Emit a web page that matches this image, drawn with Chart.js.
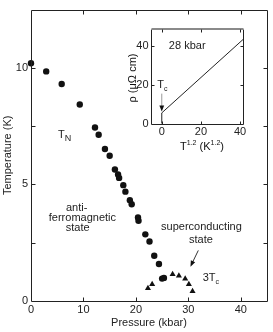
<!DOCTYPE html>
<html><head><meta charset="utf-8">
<script src="https://cdn.jsdelivr.net/npm/chart.js@4.4.0/dist/chart.umd.min.js"></script>
<style>
html,body{margin:0;padding:0;background:#fff;}
#wrap{position:relative;width:273px;height:332px;overflow:hidden;}
#main{position:absolute;left:0;top:0;width:273px;height:332px;}
#inset{position:absolute;left:126px;top:20px;width:132px;height:135px;}
</style></head><body>
<div id="wrap"><canvas id="main" width="273" height="332"></canvas><canvas id="inset" width="132" height="135"></canvas></div>
<script>
// ---- main panel data ----
const pressureTN = [0, 2.9, 5.85, 9.3, 12.2, 12.9, 14.1, 15.0, 16.0, 16.6, 16.8, 17.6, 18.0, 18.85, 19.2, 20.4, 20.5, 21.8, 22.6, 23.5, 24.4, 25.0, 25.35];
const tempTN     = [10.2, 9.85, 9.31, 8.43, 7.44, 7.13, 6.52, 6.23, 5.64, 5.43, 5.28, 4.97, 4.69, 4.32, 4.15, 3.58, 3.44, 2.86, 2.55, 1.94, 1.59, 0.96, 0.99];
const pressureTc = [22.3, 23.1, 27.0, 28.2, 29.4, 30.1, 30.8];
const temp3Tc    = [0.55, 0.72, 1.15, 1.08, 0.95, 0.72, 0.42];
const xTickValues = [0, 10, 20, 30, 40];
const xTickLabels = ['0', '10', '20', '30', '40'];
const yTickValues = [0, 2.5, 5, 7.5, 10];
const yTickLabels = ['0', '', '5', '', '10'];
// ---- inset data ----
const insetT12 = [0, 0, 41.5];
const insetRho = [0, 5.5, 43.6];
const insetXTickValues = [0, 20, 40];
const insetXTickLabels = ['0', '20', '40'];
const insetYTickValues = [0, 20, 40];
const insetYTickLabels = ['0', '20', '40'];

const FONT = '"Liberation Sans", Arial, Helvetica, sans-serif';
const INK = '#222';
const font11 = {family: FONT, size: 11};

function pts(xs, ys){ return xs.map((x,i)=>({x, y: ys[i]})); }
function px(v){ return Math.round(v) + 0.5; }

function framePlugin(cfg){
  return {
    id: 'frame',
    afterDraw(chart){
      const {ctx, chartArea: a, scales: {x, y}} = chart;
      const L = px(a.left), R = px(a.right), T = px(a.top), B = px(a.bottom);
      ctx.save();
      ctx.strokeStyle = INK; ctx.lineWidth = 1;
      ctx.beginPath();
      ctx.moveTo(L, T); ctx.lineTo(L, B); ctx.lineTo(R, B); ctx.lineTo(R, T);
      if (!cfg.topGray) ctx.lineTo(L, T);
      ctx.stroke();
      if (cfg.topGray){
        ctx.strokeStyle = '#8a8a8a'; ctx.lineWidth = 2;
        ctx.beginPath(); ctx.moveTo(L, a.top); ctx.lineTo(R, a.top); ctx.stroke();
        ctx.strokeStyle = INK; ctx.lineWidth = 1;
      }
      const len = cfg.tickLen;
      ctx.beginPath();
      cfg.xt.forEach(v => {
        const p = px(x.getPixelForValue(v));
        if (p <= L + 1 || p >= R - 1) return;
        ctx.moveTo(p, B); ctx.lineTo(p, B - len);
        ctx.moveTo(p, T); ctx.lineTo(p, T + len);
      });
      cfg.yt.forEach(v => {
        const p = px(y.getPixelForValue(v));
        if (p <= T + 1 || p >= B - 1) return;
        ctx.moveTo(L, p); ctx.lineTo(L + len, p);
        ctx.moveTo(R, p); ctx.lineTo(R - len, p);
      });
      ctx.stroke();
      ctx.restore();
    }
  };
}

function subText(ctx, x, y, main, sub, size, subSize, dy){
  ctx.font = size + 'px ' + FONT;
  const w1 = ctx.measureText(main).width;
  ctx.font = subSize + 'px ' + FONT;
  const w2 = ctx.measureText(sub).width;
  const x0 = x - (w1 + w2) / 2;
  ctx.textAlign = 'left'; ctx.textBaseline = 'middle';
  ctx.font = size + 'px ' + FONT;
  ctx.fillText(main, x0, y);
  ctx.font = subSize + 'px ' + FONT;
  ctx.fillText(sub, x0 + w1, y + dy);
}

function arrow(ctx, x1, y1, x2, y2, head, color){
  const ang = Math.atan2(y2 - y1, x2 - x1);
  ctx.strokeStyle = color; ctx.lineWidth = 1;
  ctx.beginPath(); ctx.moveTo(x1, y1);
  ctx.lineTo(x2 - Math.cos(ang) * head * 0.8, y2 - Math.sin(ang) * head * 0.8); ctx.stroke();
  ctx.fillStyle = '#111';
  ctx.beginPath();
  ctx.moveTo(x2, y2);
  ctx.lineTo(x2 - head * Math.cos(ang) + head * 0.4 * Math.sin(ang), y2 - head * Math.sin(ang) - head * 0.4 * Math.cos(ang));
  ctx.lineTo(x2 - head * Math.cos(ang) - head * 0.4 * Math.sin(ang), y2 - head * Math.sin(ang) + head * 0.4 * Math.cos(ang));
  ctx.closePath(); ctx.fill();
}

const mainNotes = {
  id: 'mainNotes',
  afterDraw(chart){
    const {ctx, scales: {x, y}} = chart;
    const X = v => x.getPixelForValue(v), Y = v => y.getPixelForValue(v);
    ctx.save();
    ctx.fillStyle = INK;
    subText(ctx, X(6.4), Y(7.12), 'T', 'N', 11, 9, 3.5);
    ctx.font = '11px ' + FONT; ctx.textAlign = 'center'; ctx.textBaseline = 'middle';
    ctx.fillText('anti-', X(8.7), Y(4.01));
    ctx.fillText('ferromagnetic', X(9.8), Y(3.58));
    ctx.fillText('state', X(8.9), Y(3.12));
    ctx.fillText('superconducting', X(32.5), Y(3.16));
    ctx.fillText('state', X(32.4), Y(2.6));
    subText(ctx, X(34.3), Y(0.99), '3T', 'c', 11, 7, 4);
    arrow(ctx, X(31.9), Y(2.17), X(30.4), Y(1.47), 6, '#333');
    ctx.restore();
  }
};

new Chart(document.getElementById('main'), {
  type: 'scatter',
  data: {
    datasets: [
      {label: 'TN', data: pts(pressureTN, tempTN), pointStyle: 'circle', pointRadius: 3.2,
       backgroundColor: '#111', borderColor: '#111', borderWidth: 0, clip: false},
      {label: '3Tc', data: pts(pressureTc, temp3Tc), pointStyle: 'triangle', pointRadius: 3.5,
       backgroundColor: '#111', borderColor: '#111', borderWidth: 0, clip: false}
    ]
  },
  options: {
    responsive: false, animation: false, devicePixelRatio: 1,
    layout: {padding: {top: 6, right: 6, left: 0, bottom: 0}},
    plugins: {legend: {display: false}, tooltip: {enabled: false}},
    scales: {
      x: {
        type: 'linear', min: 0, max: 45,
        afterBuildTicks: s => { s.ticks = xTickValues.map(v => ({value: v})); },
        afterFit: s => { s.height = 31; },
        grid: {display: false, drawTicks: false}, border: {display: false},
        ticks: {padding: 2.5, font: font11, color: INK, autoSkip: false, maxRotation: 0,
                callback: (v) => xTickLabels[xTickValues.indexOf(v)] ?? ''},
        title: {display: true, text: 'Pressure (kbar)', font: font11, color: INK, padding: {top: 0, bottom: 2.4}}
      },
      y: {
        type: 'linear', min: 0, max: 12.5,
        afterBuildTicks: s => { s.ticks = yTickValues.map(v => ({value: v})); },
        afterFit: s => { s.width = 31; },
        grid: {display: false, drawTicks: false}, border: {display: false},
        ticks: {padding: 3, font: font11, color: INK, autoSkip: false,
                callback: (v) => yTickLabels[yTickValues.indexOf(v)] ?? ''},
        title: {display: true, text: 'Temperature (K)', font: font11, color: INK, padding: {top: 1.7, bottom: 0}}
      }
    }
  },
  plugins: [framePlugin({xt: xTickValues, yt: yTickValues, tickLen: 4, topGray: false}), mainNotes]
});

const insetNotes = {
  id: 'insetNotes',
  afterDraw(chart){
    const {ctx, chartArea: a, scales: {x, y}} = chart;
    const X = v => x.getPixelForValue(v), Y = v => y.getPixelForValue(v);
    ctx.save();
    ctx.fillStyle = INK;
    ctx.font = '11px ' + FONT; ctx.textAlign = 'center'; ctx.textBaseline = 'middle';
    ctx.fillText('28 kbar', X(13), Y(40.3));
    subText(ctx, X(0.3), Y(20.2), 'T', 'c', 11, 7, 4);
    arrow(ctx, X(0), Y(15.5), X(0), Y(6.2), 6, '#999');
    // x-axis title with superscripts
    const parts = [['T', 11, 0], ['1.2', 7, -4], [' (K', 11, 0], ['1.2', 7, -4], [')', 11, 0]];
    let total = 0;
    parts.forEach(p => { ctx.font = p[1] + 'px ' + FONT; total += ctx.measureText(p[0]).width; });
    let cx = 76 - total / 2; const cy = 126.7;
    ctx.textAlign = 'left';
    parts.forEach(p => { ctx.font = p[1] + 'px ' + FONT; ctx.fillText(p[0], cx, cy + p[2]); cx += ctx.measureText(p[0]).width; });
    // y-axis title
    ctx.translate(7, 58); ctx.rotate(-Math.PI / 2);
    ctx.font = '11px ' + FONT; ctx.textAlign = 'center';
    ctx.fillText('ρ (μΩ cm)', 0, 0);
    ctx.restore();
  }
};

new Chart(document.getElementById('inset'), {
  type: 'scatter',
  data: {
    datasets: [
      {label: 'rho', data: pts(insetT12, insetRho), showLine: true, pointRadius: 0,
       borderColor: '#222', borderWidth: 1, clip: false}
    ]
  },
  options: {
    responsive: false, animation: false, devicePixelRatio: 1,
    layout: {padding: {top: 6, right: 15, left: 0, bottom: 0}},
    plugins: {legend: {display: false}, tooltip: {enabled: false}},
    scales: {
      x: {
        type: 'linear', min: -5.5, max: 41.5,
        afterBuildTicks: s => { s.ticks = insetXTickValues.map(v => ({value: v})); },
        afterFit: s => { s.height = 31.5; },
        grid: {display: false, drawTicks: false}, border: {display: false},
        ticks: {padding: 1.6, font: font11, color: INK, autoSkip: false, maxRotation: 0,
                callback: (v) => insetXTickLabels[insetXTickValues.indexOf(v)] ?? ''}
      },
      y: {
        type: 'linear', min: 0, max: 49,
        afterBuildTicks: s => { s.ticks = insetYTickValues.map(v => ({value: v})); },
        afterFit: s => { s.width = 25; },
        grid: {display: false, drawTicks: false}, border: {display: false},
        ticks: {padding: 2.5, font: font11, color: INK, autoSkip: false,
                callback: (v) => insetYTickLabels[insetYTickValues.indexOf(v)] ?? ''}
      }
    }
  },
  plugins: [framePlugin({xt: insetXTickValues, yt: insetYTickValues, tickLen: 3, topGray: true}), insetNotes]
});
</script>
</body></html>
